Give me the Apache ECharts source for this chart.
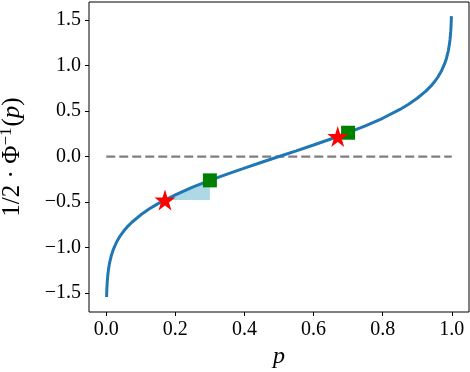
<!DOCTYPE html>
<html>
<head>
<meta charset="utf-8">
<script src="https://cdn.jsdelivr.net/npm/echarts@6/dist/echarts.min.js"></script>
<style>
  html, body { margin: 0; padding: 0; background: #fff; }
  #chart { width: 470px; height: 372px; }
</style>
</head>
<body>
<div id="chart"></div>
<script>
// curve: p and 1/2 * inverse normal cdf
const pValues = [0.001, 0.0015, 0.002, 0.003, 0.005, 0.007, 0.01, 0.015, 0.02, 0.03, 0.04, 0.05, 0.06, 0.075, 0.1, 0.125, 0.15, 0.2, 0.25, 0.3, 0.35, 0.4, 0.45, 0.5,
                 0.55, 0.6, 0.65, 0.7, 0.75, 0.8, 0.85, 0.875, 0.9, 0.925, 0.94, 0.95, 0.96, 0.97, 0.98, 0.985, 0.99, 0.993, 0.995, 0.997, 0.998, 0.9985, 0.999];
const yValues = [-1.545, -1.484, -1.439, -1.374, -1.288, -1.229, -1.163, -1.085, -1.027, -0.940, -0.875, -0.822, -0.777, -0.720, -0.641, -0.575, -0.518, -0.421, -0.337, -0.262, -0.193, -0.127, -0.063, 0,
                 0.063, 0.127, 0.193, 0.262, 0.337, 0.421, 0.518, 0.575, 0.641, 0.720, 0.777, 0.822, 0.875, 0.940, 1.027, 1.085, 1.163, 1.229, 1.288, 1.374, 1.439, 1.484, 1.545];
// shaded piece under the curve between the lower star and the lower square
const fillP = [0.17, 0.2, 0.225, 0.25, 0.275, 0.3];
const fillY = [-0.477, -0.421, -0.378, -0.337, -0.299, -0.262];
const fillBase = -0.477;
// markers
const starPoints = [[0.17, -0.477], [0.67, 0.220]];
const squarePoints = [[0.3, -0.262], [0.7, 0.262]];
// reference line and ticks
const zeroLine = [[0, 0], [1, 0]];
const xTicks = [0, 0.2, 0.4, 0.6, 0.8, 1.0];
const yTicks = [-1.5, -1.0, -0.5, 0, 0.5, 1.0, 1.5];

const fontFam = '"Liberation Serif", "DejaVu Serif", serif';

function starPath() {
  let d = '';
  for (let k = 0; k < 10; k++) {
    const r = k % 2 === 0 ? 1 : 0.382;
    const a = (-90 + 36 * k) * Math.PI / 180;
    d += (k === 0 ? 'M' : 'L') + (r * Math.cos(a)).toFixed(4) + ' ' + (r * Math.sin(a)).toFixed(4);
  }
  return 'path://' + d + 'Z';
}

function fmt(v) {
  return v.toFixed(1).replace('-', '\u2212');
}

const chart = echarts.init(document.getElementById('chart'), null, { renderer: 'canvas' });

const curve = pValues.map((p, i) => [p, yValues[i]]);
const fillPoly = fillP.map((p, i) => [p, fillY[i]]);
fillPoly.push([fillP[fillP.length - 1], fillBase], [fillP[0], fillBase]);

chart.setOption({
  animation: false,
  grid: {
    left: 89, right: 1, top: 2, bottom: 60, outerBoundsMode: 'none', containLabel: false,
    show: true, borderColor: '#000', borderWidth: 1, backgroundColor: 'transparent'
  },
  xAxis: {
    type: 'value', min: -0.0499, max: 1.0499,
    name: 'p', nameLocation: 'middle', nameGap: 33,
    nameTextStyle: { fontFamily: fontFam, fontSize: 24, fontStyle: 'italic', color: '#000' },
    splitLine: { show: false },
    axisLine: { show: false, onZero: false },
    axisTick: { show: true, inside: false, length: 4, lineStyle: { color: '#000', width: 1 }, customValues: xTicks },
    axisLabel: { customValues: xTicks, formatter: fmt, fontFamily: fontFam, fontSize: 20, color: '#000', margin: 8 }
  },
  yAxis: {
    type: 'value', min: -1.71, max: 1.70,
    name: '{a|1/2 · Φ}{s|−1}{a|(}{i|p}{a|)}', nameLocation: 'middle', nameRotate: 90, nameGap: 62,
    nameTextStyle: {
      fontFamily: fontFam, fontSize: 25, color: '#000',
      rich: {
        a: { fontFamily: fontFam, fontSize: 25, color: '#000' },
        i: { fontFamily: fontFam, fontSize: 25, fontStyle: 'italic', color: '#000' },
        s: { fontFamily: fontFam, fontSize: 17, color: '#000', verticalAlign: 'top', padding: [0, 1, 12, 0] }
      }
    },
    splitLine: { show: false },
    axisLine: { show: false, onZero: false },
    axisTick: { show: true, inside: false, length: 4, lineStyle: { color: '#000', width: 1 }, customValues: yTicks },
    axisLabel: { customValues: yTicks, formatter: fmt, fontFamily: fontFam, fontSize: 20, color: '#000', margin: 8 }
  },
  series: [
    {
      type: 'custom', z: 1, silent: true,
      renderItem: function (params, api) {
        return {
          type: 'polygon',
          shape: { points: fillPoly.map(pt => api.coord(pt)) },
          style: { fill: '#add8e6' }
        };
      },
      data: [0]
    },
    {
      type: 'line', z: 2, data: zeroLine, symbol: 'none',
      lineStyle: { color: '#7f7f7f', width: 2.2, type: [9, 4] }
    },
    {
      type: 'line', z: 3, data: curve, symbol: 'none',
      lineStyle: { color: '#1f77b4', width: 3 }
    },
    {
      type: 'scatter', z: 4, data: squarePoints, symbol: 'rect', symbolSize: 14,
      itemStyle: { color: '#008000', opacity: 1 }
    },
    {
      type: 'scatter', z: 5, data: starPoints, symbol: starPath(), symbolSize: 21,
      itemStyle: { color: '#ff0000', opacity: 1 }
    }
  ]
});
</script>
</body>
</html>
